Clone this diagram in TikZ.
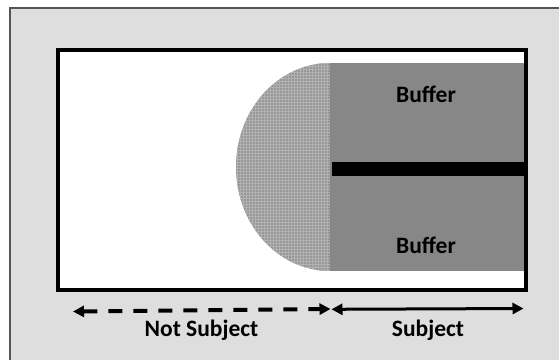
\documentclass[tikz,border=0pt]{standalone}
\usepackage{fontspec}
\setmainfont{Carlito}
\usetikzlibrary{arrows.meta,patterns}
\definecolor{bgc}{HTML}{DEDEDE}
\definecolor{framec}{HTML}{555555}
\definecolor{bufc}{HTML}{878787}
\definecolor{semic}{HTML}{979797}
\definecolor{gridc}{HTML}{B2B2B2}
\tikzset{
  lbl/.style={font=\fontsize{23.5}{27}\selectfont\bfseries, text=black, inner sep=0pt},
  arr/.style={-{Triangle[length=11pt,width=11pt]}, line width=3pt},
}
\begin{document}
\begin{tikzpicture}[x=1pt,y=-1pt]
\useasboundingbox (0,0) rectangle (559,360);
% background
\fill[white] (0,0) rectangle (559,360);
\fill[bgc] (9,7) rectangle (559,360);
\draw[framec, line width=1.5pt] (9.75,360) -- (9.75,7.75) -- (559,7.75);
% inner frame
\fill[white] (58,50) rectangle (526,289.5);
% semicircle
\begin{scope}
\clip (200,50) rectangle (330.5,290);
\fill[semic] (330,167) ellipse [x radius=94, y radius=104];
\fill[pattern=grid, pattern color=gridc] (330,167) ellipse [x radius=94, y radius=104];
\end{scope}
% buffer rectangle
\fill[bufc] (330,63) rectangle (524,271);
\fill[black] (332,162) rectangle (524,176);
\draw[black, line width=4pt] (58,50) rectangle (526,289.5);
\node[lbl] (b1) at (426,94) {Buffer};
\node[lbl] (b2) at (426,245) {Buffer};
% arrows
\coordinate (l) at (73,311.5);
\coordinate (m) at (330.5,309);
\coordinate (mr) at (331.5,309.3);
\coordinate (r) at (523.5,308.5);
\draw[arr, line width=4pt, dash pattern=on 14pt off 11pt, {Triangle[length=11pt,width=11pt]}-{Triangle[length=11pt,width=11pt]}] (l) -- (m);
\draw[arr, {Triangle[length=11pt,width=11pt]}-{Triangle[length=11pt,width=11pt]}] (mr) -- (r);
\node[lbl] (ns) at (201.5,330) {Not Subject};
\node[lbl] (s) at (428,330) {Subject};
\end{tikzpicture}
\end{document}
